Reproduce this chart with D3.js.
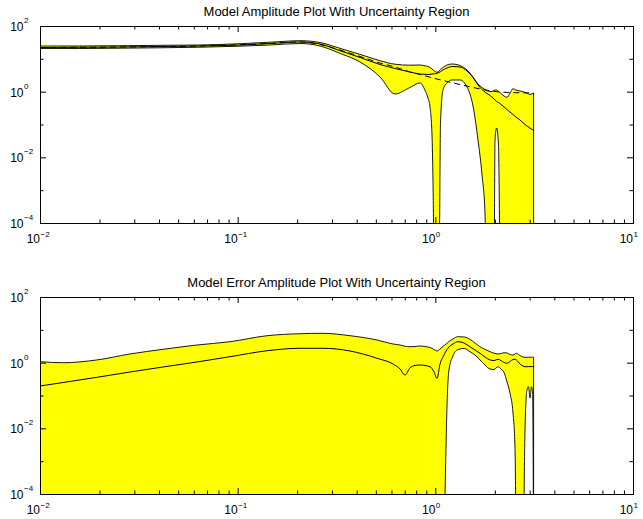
<!DOCTYPE html>
<html>
<head>
<meta charset="utf-8">
<script src="https://cdn.jsdelivr.net/npm/d3@7"></script>
<style>
  html, body { margin: 0; padding: 0; background: #fff; }
  svg { display: block; font-family: "Liberation Sans", Arial, Helvetica, sans-serif; }
</style>
</head>
<body>
<svg id="chart" width="643" height="519"></svg>
<script>
// ---- Model amplitude: frequency grid (rad/s) and magnitudes ----
const freqTop = [0.0100, 0.0159, 0.0254, 0.0405, 0.0645, 0.103, 0.146, 0.207, 0.261, 0.329,
  0.416, 0.525, 0.625, 0.744, 0.836, 0.886, 0.918, 0.940, 0.962, 0.973,
  0.990, 1.020, 1.043, 1.062, 1.093, 1.146, 1.214, 1.333, 1.446, 1.551,
  1.644, 1.723, 1.783, 1.826, 1.891, 1.981, 2.004, 2.043, 2.087, 2.136,
  2.226, 2.305, 2.386, 2.471, 2.559, 2.681, 2.809, 2.909, 3.012, 3.1416];
const upperTop = [24.6, 24.6, 25.1, 25.8, 26.4, 28.9, 32.1, 35.7, 31.4, 20.9,
  13.7, 8.77, 6.86, 6.40, 6.49, 6.13, 5.84, 5.45, 4.90, 4.57,
  4.26, 3.89, 4.26, 4.73, 5.45, 6.49, 6.96, 6.26, 4.57, 2.80,
  1.71, 1.34, 1.16, 1.08, 0.997, 1.08, 1.12, 1.12, 1.01, 0.910,
  0.738, 0.673, 0.910, 1.23, 1.12, 1.05, 0.976, 0.910, 0.820, 0.910];
const modelTop = [22.1, 22.5, 22.9, 23.7, 24.6, 26.4, 29.3, 32.6, 28.3, 17.7,
  11.0, 6.72, 5.08, 3.97, 3.45, 3.38, 3.33, 3.38, 3.45, 3.47,
  3.50, 3.62, 3.83, 4.06, 4.57, 5.26, 5.84, 5.64, 4.26, 2.70,
  1.60, 1.16, 0.976, 0.879, 0.764, 0.598, 0.557, 0.501, 0.468, 0.421,
  0.341, 0.286, 0.240, 0.201, 0.169, 0.137, 0.107, 0.0900, 0.0780, 0.0656];
const lowerTop = [20.6, 20.6, 21.1, 21.7, 22.6, 24.3, 26.4, 29.3, 24.6, 14.7,
  8.01, 2.80, 0.849, 1.34, 1.84, 1.12, 0.641, 0.341, 0.0479, 0.00204,
  1e-6, 1e-6, 1e-6, 0.111, 1.12, 1.84, 2.27, 2.27, 1.39, 0.366,
  0.0337, 0.00289, 0.000201, 1e-6, 1e-6, 1e-6, 0.0337, 0.0782, 0.0237, 1e-6,
  1e-6, 1e-6, 1e-6, 1e-6, 1e-6, 1e-6, 1e-6, 1e-6, 1e-6, 1e-6];

// True system amplitude (dashed)
const freqTrue = [0.0100, 0.0254, 0.0645, 0.146, 0.207, 0.261, 0.329, 0.416, 0.525, 0.625,
  0.744, 0.836, 1.020, 1.146, 1.333, 1.551, 1.805, 2.051, 2.386, 2.681, 3.1416];
const trueTop = [22.1, 22.9, 24.6, 29.3, 32.6, 27.3, 18.6, 11.8, 7.46, 5.64,
  3.97, 3.33, 2.43, 2.04, 1.65, 1.34, 1.12, 0.997, 0.943, 0.923, 0.910];

// ---- Model error amplitude ----
const freqErr = [0.0100, 0.0131, 0.0194, 0.0285, 0.0419, 0.0623, 0.0915, 0.141, 0.207, 0.270,
  0.370, 0.507, 0.611, 0.663, 0.702, 0.744, 0.789, 0.836, 0.940, 0.985,
  1.020, 1.056, 1.100, 1.126, 1.146, 1.172, 1.228, 1.302, 1.396, 1.497,
  1.587, 1.683, 1.783, 1.891, 1.981, 2.075, 2.149, 2.226, 2.305, 2.386,
  2.471, 2.529, 2.574, 2.681, 2.777, 2.842, 2.909, 2.960, 3.012, 3.066,
  3.105, 3.1416];
const upperErr = [1.07, 0.997, 1.21, 1.84, 2.55, 3.45, 4.35, 6.63, 7.62, 7.84,
  6.63, 4.90, 3.70, 3.45, 3.17, 3.06, 3.11, 3.22, 2.90, 2.52,
  2.27, 2.61, 3.22, 3.57, 3.89, 4.41, 5.26, 6.18, 6.05, 5.15,
  3.97, 3.06, 2.52, 2.16, 1.94, 1.84, 1.90, 2.01, 1.97, 1.77,
  1.71, 1.84, 1.93, 1.65, 1.49, 1.46, 1.46, 1.46, 1.47, 1.46,
  1.49, 1.46];
const modelErr = [0.195, 0.249, 0.358, 0.519, 0.738, 1.05, 1.52, 2.31, 2.74, 2.74,
  2.27, 1.36, 0.910, 0.641, 0.421, 0.688, 0.820, 0.849, 0.753, 0.519,
  0.334, 0.910, 1.60, 2.11, 2.52, 3.00, 3.70, 4.35, 3.97, 3.06,
  2.43, 1.93, 1.49, 1.21, 1.16, 1.27, 1.16, 1.01, 0.956, 1.08,
  1.25, 1.27, 1.21, 0.910, 0.791, 0.753, 0.753, 0.753, 0.764, 0.753,
  0.764, 0.753];
const lowerErr = [1e-6, 1e-6, 1e-6, 1e-6, 1e-6, 1e-6, 1e-6, 1e-6, 1e-6, 1e-6,
  1e-6, 1e-6, 1e-6, 1e-6, 1e-6, 1e-6, 1e-6, 1e-6, 1e-6, 1e-6,
  1e-6, 1e-6, 1e-6, 0.000538, 0.0513, 0.598, 1.60, 2.52, 2.70, 2.16,
  1.71, 1.21, 0.849, 0.641, 0.619, 0.753, 0.641, 0.501, 0.258, 0.117,
  0.0293, 0.00270, 1e-6, 1e-6, 1e-6, 0.00889, 0.147, 0.185, 0.0838, 0.185,
  0.119, 1e-6];

// ---- Axis ticks and labels ----
const xMajor = [1e-2, 1e-1, 1, 10];
const xMajorExp = ["\u22122", "\u22121", "0", "1"];
const yMajor = [1e-4, 1e-2, 1, 1e2];
const yMajorExp = ["\u22124", "\u22122", "0", "2"];
const yMinor = [1e-3, 1e-1, 10];
const xMinor = [];
[1e-2, 1e-1, 1].forEach(dec => { for (let m = 2; m <= 9; m++) xMinor.push(m * dec); });

const titles = ["Model Amplitude Plot With Uncertainty Region",
                "Model Error Amplitude Plot With Uncertainty Region"];

const svg = d3.select("#chart");
const plotL = 40, plotR = 633;
const x = d3.scaleLog().domain([1e-2, 10]).range([plotL, plotR]);

function drawPanel(cfg) {
  const { id, top, bottom } = cfg;
  const y = d3.scaleLog().domain([1e-4, 1e2]).range([bottom, top]);
  const g = svg.append("g");

  const clipId = "clip-" + id;
  svg.append("clipPath").attr("id", clipId)
    .append("rect").attr("x", plotL).attr("y", top)
    .attr("width", plotR - plotL).attr("height", bottom - top);
  const plot = g.append("g").attr("clip-path", `url(#${clipId})`);

  // uncertainty band
  const idx = d3.range(cfg.freq.length);
  const band = d3.area()
    .x(i => x(cfg.freq[i]))
    .y0(i => y(cfg.lower[i]))
    .y1(i => y(cfg.upper[i]))
    .curve(d3.curveMonotoneX);
  plot.append("path").attr("d", band(idx))
    .attr("fill", "#ffff00").attr("stroke", "#000").attr("stroke-width", 0.9);

  // model estimate
  const modelLine = d3.line()
    .x(i => x(cfg.freq[i])).y(i => y(cfg.model[i]))
    .curve(d3.curveMonotoneX);
  plot.append("path").attr("d", modelLine(idx))
    .attr("fill", "none").attr("stroke", "#000").attr("stroke-width", 1);

  // true system (dashed)
  if (cfg.trueFreq) {
    const tIdx = d3.range(cfg.trueFreq.length);
    const trueLine = d3.line()
      .x(i => x(cfg.trueFreq[i])).y(i => y(cfg.trueVal[i]))
      .curve(d3.curveMonotoneX);
    plot.append("path").attr("d", trueLine(tIdx))
      .attr("fill", "none").attr("stroke", "#000").attr("stroke-width", 1)
      .attr("stroke-dasharray", "6,4");
  }

  // inward ticks on all four sides
  const axes = g.append("g").attr("stroke-width", 1);
  const addAxis = (axis, tf) => {
    const a = axes.append("g").attr("transform", tf).call(axis);
    a.select(".domain").remove();
    a.selectAll("text").remove();
  };
  addAxis(d3.axisBottom(x).tickValues(xMajor).tickSizeInner(-6).tickSizeOuter(0), `translate(0,${bottom})`);
  addAxis(d3.axisBottom(x).tickValues(xMinor).tickSizeInner(-3.5).tickSizeOuter(0), `translate(0,${bottom})`);
  addAxis(d3.axisTop(x).tickValues(xMajor).tickSizeInner(-6).tickSizeOuter(0), `translate(0,${top})`);
  addAxis(d3.axisTop(x).tickValues(xMinor).tickSizeInner(-3.5).tickSizeOuter(0), `translate(0,${top})`);
  addAxis(d3.axisLeft(y).tickValues(yMajor).tickSizeInner(-6).tickSizeOuter(0), `translate(${plotL},0)`);
  addAxis(d3.axisLeft(y).tickValues(yMinor).tickSizeInner(-3.5).tickSizeOuter(0), `translate(${plotL},0)`);
  addAxis(d3.axisRight(y).tickValues(yMajor).tickSizeInner(-6).tickSizeOuter(0), `translate(${plotR},0)`);
  addAxis(d3.axisRight(y).tickValues(yMinor).tickSizeInner(-3.5).tickSizeOuter(0), `translate(${plotR},0)`);

  // frame
  g.append("rect").attr("x", plotL + 0.5).attr("y", top + 0.5)
    .attr("width", plotR - plotL).attr("height", bottom - top)
    .attr("fill", "none").attr("stroke", "#000").attr("stroke-width", 1);

  // x tick labels: 10 with superscript exponent
  const xl = g.append("g").attr("fill", "#000");
  xMajor.forEach((v, i) => {
    const px = x(v);
    xl.append("text").attr("x", px).attr("y", bottom + 20)
      .attr("text-anchor", "end").attr("font-size", 12).text("10");
    xl.append("text").attr("x", px + 0.5).attr("y", bottom + 13.5)
      .attr("text-anchor", "start").attr("font-size", 8).text(xMajorExp[i]);
  });

  // y tick labels
  yMajor.forEach((v, i) => {
    const py = y(v);
    xl.append("text").attr("x", 23.5).attr("y", py + 5)
      .attr("text-anchor", "end").attr("font-size", 12).text("10");
    xl.append("text").attr("x", 24).attr("y", py - 3)
      .attr("text-anchor", "start").attr("font-size", 8).text(yMajorExp[i]);
  });

  // title
  g.append("text").attr("x", (plotL + plotR) / 2).attr("y", top - 10)
    .attr("text-anchor", "middle").attr("font-size", 13).attr("fill", "#000")
    .text(cfg.title);
}

drawPanel({ id: "amp", top: 26, bottom: 223, title: titles[0],
  freq: freqTop, upper: upperTop, lower: lowerTop, model: modelTop,
  trueFreq: freqTrue, trueVal: trueTop });
drawPanel({ id: "err", top: 297, bottom: 494, title: titles[1],
  freq: freqErr, upper: upperErr, lower: lowerErr, model: modelErr });
</script>
</body>
</html>
